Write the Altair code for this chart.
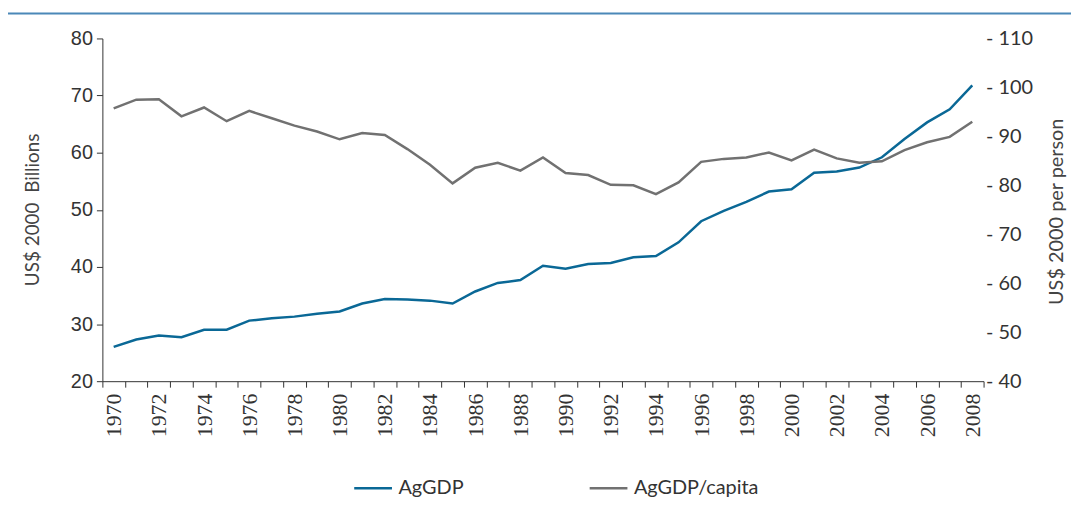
import altair as alt
import pandas as pd

years = list(range(1970, 2009))
aggdp = [26.0, 27.3, 28.0, 27.7, 29.0, 29.0, 30.6, 31.0, 31.3, 31.8,
         32.2, 33.6, 34.4, 34.3, 34.1, 33.6, 35.7, 37.2, 37.7, 40.2,
         39.7, 40.5, 40.7, 41.7, 41.9, 44.3, 48.0, 49.8, 51.4, 53.2,
         53.6, 56.5, 56.7, 57.4, 59.2, 62.4, 65.3, 67.6, 71.8]
aggdp_pc = [95.7, 97.5, 97.6, 94.1, 95.9, 93.1, 95.2, 93.7, 92.2, 91.0,
            89.4, 90.7, 90.3, 87.4, 84.2, 80.4, 83.6, 84.6, 83.0, 85.7,
            82.5, 82.1, 80.1, 80.0, 78.2, 80.6, 84.8, 85.4, 85.7, 86.7,
            85.1, 87.3, 85.5, 84.6, 84.9, 87.2, 88.8, 89.9, 93.0]
series_names = ["AgGDP", "AgGDP/capita"]
series_colors = ["#0a6896", "#717171"]
left_ticks = [20, 30, 40, 50, 60, 70, 80]
right_ticks = [40, 50, 60, 70, 80, 90, 100, 110]

df1 = pd.DataFrame({"year": years, "value": aggdp, "series": series_names[0]})
df2 = pd.DataFrame({"year": years, "value": aggdp_pc, "series": series_names[1]})

W, H = 887, 345

color = alt.Color(
    "series:N",
    scale=alt.Scale(domain=series_names, range=series_colors),
    legend=alt.Legend(
        title=None, orient="none", legendX=252, legendY=432,
        direction="horizontal", symbolType="stroke", symbolSize=1444,
        symbolStrokeWidth=2.5, labelFont="Lato", labelFontSize=20,
        labelColor="#333333", columnPadding=121, labelOffset=5,
    ),
)

xenc = alt.X(
    "year:O",
    scale=alt.Scale(type="band", paddingInner=0, paddingOuter=0),
    bandPosition=0.5,
    axis=alt.Axis(
        title=None, tickBand="extent", labelAngle=-90,
        labelExpr="datum.value % 2 == 0 ? datum.label : ''",
        labelFont="Liberation Sans Narrow", labelFontSize=22,
        labelColor="#333333", labelPadding=6, tickSize=6,
        domainColor="#333333", tickColor="#333333", labelBaseline="middle",
        labelAlign="right",
    ),
)

left = alt.Chart(df1).mark_line(strokeWidth=2.5).encode(
    x=xenc,
    y=alt.Y(
        "value:Q",
        scale=alt.Scale(domain=[20, 80], nice=False, zero=False),
        axis=alt.Axis(
            values=left_ticks, title="US$ 2000\u00a0\u00a0Billions", titleFont="Lato",
            titleFontSize=19, titleFontWeight="normal", titleColor="#444444",
            titleAngle=270, titleX=-70, titleY=172, titleAlign="center",
            titleBaseline="middle",
            labelFont="Liberation Sans", labelFontSize=20,
            labelColor="#333333", tickSize=6, labelPadding=4,
            domainColor="#333333", tickColor="#333333", grid=False,
        ),
    ),
    color=color,
)

right = alt.Chart(df2).mark_line(strokeWidth=2.5).encode(
    x=xenc,
    y=alt.Y(
        "value:Q",
        scale=alt.Scale(domain=[40, 110], nice=False, zero=False),
        axis=alt.Axis(
            values=right_ticks, orient="right", title="US$ 2000 per person",
            titleFont="Lato", titleFontSize=20, titleFontWeight="normal",
            titleColor="#444444", titleAngle=270, titleX=73, titleY=174,
            titleAlign="center", titleBaseline="middle", labelFont="Lato",
            labelFontSize=20, labelColor="#333333", domain=False, ticks=False,
            labelExpr="'- ' + datum.label", labelPadding=2, grid=False,
        ),
    ),
    color=color,
)

topline = alt.Chart(pd.DataFrame({"a": [0]})).mark_rule(
    color="#4b88b8", strokeWidth=2
).encode(x=alt.value(-98), x2=alt.value(976), y=alt.value(-25))

chart = (
    alt.layer(left, right, topline)
    .resolve_scale(y="independent")
    .properties(
        width=W, height=H,
        autosize=alt.AutoSizeParams(type="none"),
        padding={"left": 95, "top": 29, "right": 88, "bottom": 125},
    )
    .configure_view(stroke=None)
)

chart.save("out.html", embed_options={"renderer": "svg", "actions": False})
